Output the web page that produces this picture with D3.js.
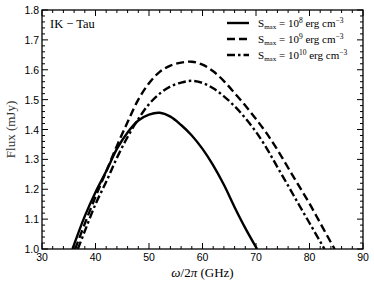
<!DOCTYPE html>
<html><head><meta charset="utf-8">
<script src="https://cdn.jsdelivr.net/npm/d3@7"></script>
<style>body{margin:0;background:#fff}</style>
</head><body>
<svg id="c" width="374" height="285"></svg>
<script>
const xTicks = [30,40,50,60,70,80,90];
const yTicks = [1.0,1.1,1.2,1.3,1.4,1.5,1.6,1.7,1.8];
const seriesNames = ["8","9","10"];
const solidX = [35.7,38,40,42,44,46,48,50,52,54,56,58,60,62,64,66,68,70.2];
const solidY = [1.0,1.11,1.19,1.26,1.335,1.39,1.43,1.45,1.456,1.443,1.415,1.38,1.335,1.28,1.215,1.14,1.07,1.0];
const dashX = [36.2,38,40,42,44,46,48,50,52,54,56,58,60,62,64,66,68,70,72,74,76,78,80,82,84,84.7];
const dashY = [1.0,1.085,1.175,1.26,1.345,1.425,1.5,1.555,1.593,1.614,1.624,1.627,1.617,1.595,1.562,1.522,1.48,1.435,1.387,1.332,1.272,1.212,1.152,1.087,1.022,1.0];
const dotX = [36.7,38,40,42,44,46,48,50,52,54,56,58,60,62,64,66,68,70,72,74,76,78,80,82,82.8];
const dotY = [1.0,1.06,1.15,1.225,1.305,1.375,1.435,1.485,1.52,1.544,1.557,1.563,1.556,1.538,1.511,1.478,1.438,1.392,1.337,1.274,1.212,1.149,1.087,1.025,1.0];

const svg = d3.select("#c");
const L=42, R=363, T=10, B=249;
const x = d3.scaleLinear().domain([30,90]).range([L,R]);
const y = d3.scaleLinear().domain([1.0,1.8]).range([B,T]);
const sans = "Liberation Sans, Arial, sans-serif";
const serif = "Liberation Serif, Times New Roman, serif";

const g = svg.append("g");
g.append("clipPath").attr("id","clip").append("rect").attr("x",L).attr("y",T).attr("width",R-L).attr("height",B-T);

const styles = [
  {xs:solidX, ys:solidY, dash:null},
  {xs:dashX, ys:dashY, dash:"8,4"},
  {xs:dotX, ys:dotY, dash:"8,3,2.5,3"}
];
const line = d3.line().x(d=>x(d[0])).y(d=>y(d[1])).curve(d3.curveCatmullRom);
styles.forEach(s=>{
  g.append("path").datum(s.xs.map((v,i)=>[v,s.ys[i]]))
   .attr("d",line).attr("fill","none").attr("stroke","#000").attr("stroke-width",2.4)
   .attr("stroke-dasharray",s.dash).attr("clip-path","url(#clip)");
});

// frame
g.append("rect").attr("x",L).attr("y",T).attr("width",R-L).attr("height",B-T)
 .attr("fill","none").attr("stroke","#000").attr("stroke-width",1.3);

// ticks
const xMinor = d3.range(30,90.01,2);
const yMinor = d3.range(1.0,1.8001,0.02);
xMinor.forEach(v=>{
  const major = xTicks.some(t=>Math.abs(t-v)<1e-6);
  const len = major?6:3;
  g.append("line").attr("x1",x(v)).attr("x2",x(v)).attr("y1",B).attr("y2",B-len).attr("stroke","#000").attr("stroke-width",1);
  g.append("line").attr("x1",x(v)).attr("x2",x(v)).attr("y1",T).attr("y2",T+len).attr("stroke","#000").attr("stroke-width",1);
});
yMinor.forEach(v=>{
  const major = yTicks.some(t=>Math.abs(t-v)<1e-6);
  const len = major?6:3;
  g.append("line").attr("x1",L).attr("x2",L+len).attr("y1",y(v)).attr("y2",y(v)).attr("stroke","#000").attr("stroke-width",1);
  g.append("line").attr("x1",R).attr("x2",R-len).attr("y1",y(v)).attr("y2",y(v)).attr("stroke","#000").attr("stroke-width",1);
});

// tick labels
xTicks.forEach(v=>{
  g.append("text").attr("x",x(v)).attr("y",B+12).attr("text-anchor","middle")
   .attr("font-family",sans).attr("font-size",10.5).text(v);
});
yTicks.forEach(v=>{
  g.append("text").attr("x",L-3).attr("y",y(v)+4).attr("text-anchor","end")
   .attr("font-family",sans).attr("font-size",10.5).text(v.toFixed(1));
});

// axis labels
const xl = g.append("text").attr("x",(L+R)/2).attr("y",277).attr("text-anchor","middle")
  .attr("font-family",serif).attr("font-size",13);
xl.append("tspan").attr("font-style","italic").text("ω");
xl.append("tspan").text("/2");
xl.append("tspan").attr("font-style","italic").text("π");
xl.append("tspan").text(" (GHz)");
g.append("text").attr("transform",`translate(15,${(T+B)/2}) rotate(-90)`).attr("text-anchor","middle")
  .attr("font-family",serif).attr("font-size",13).attr("fill","#333").text("Flux (mJy)");

// annotation
g.append("text").attr("x",50).attr("y",28).attr("font-family",serif).attr("font-size",12.5).text("IK − Tau");

// legend
const legY = [23,39,55];
styles.forEach((s,i)=>{
  g.append("line").attr("x1",227).attr("x2",249).attr("y1",legY[i]).attr("y2",legY[i])
   .attr("stroke","#000").attr("stroke-width",2.4).attr("stroke-dasharray",s.dash);
  const t = g.append("text").attr("x",258).attr("y",legY[i]+3.5).attr("font-family",serif).attr("font-size",11);
  t.append("tspan").text("S");
  t.append("tspan").attr("font-size",7).attr("dy",2).text("max");
  t.append("tspan").attr("dy",-2).text(" = 10");
  t.append("tspan").attr("font-size",7.5).attr("dy",-4).text(seriesNames[i]);
  t.append("tspan").attr("dy",4).text(" erg cm");
  t.append("tspan").attr("font-size",7.5).attr("dy",-4).text("−3");
});
</script>
</body></html>
